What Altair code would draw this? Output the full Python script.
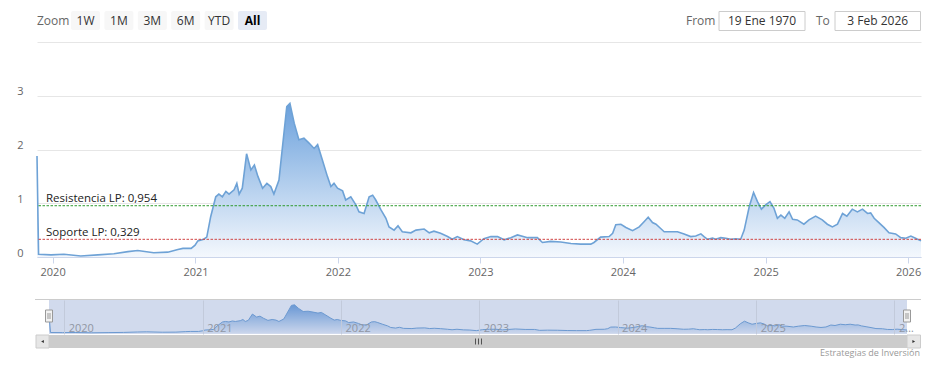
import altair as alt
import pandas as pd

# ---------------- data ----------------
dates = [
    "2019-11-22", "2019-11-26", "2019-12-28", "2020-01-30", "2020-03-13", "2020-04-26",
    "2020-06-06", "2020-07-12", "2020-08-06", "2020-09-16", "2020-10-22", "2020-11-17",
    "2020-11-30", "2020-12-21", "2020-12-31", "2021-01-07", "2021-01-22", "2021-01-30",
    "2021-02-09", "2021-02-22", "2021-03-02", "2021-03-11", "2021-03-20", "2021-03-28",
    "2021-04-10", "2021-04-17", "2021-04-23", "2021-05-01", "2021-05-12", "2021-05-23",
    "2021-06-01", "2021-06-10", "2021-06-22", "2021-07-03", "2021-07-13", "2021-07-21",
    "2021-08-03", "2021-08-07", "2021-08-23", "2021-08-31", "2021-09-11", "2021-09-23",
    "2021-10-06", "2021-10-19", "2021-11-01", "2021-11-10", "2021-11-22", "2021-12-05",
    "2021-12-14", "2021-12-22", "2021-12-31", "2022-01-13", "2022-01-21", "2022-02-03",
    "2022-02-16", "2022-02-24", "2022-03-09", "2022-03-22", "2022-03-31", "2022-04-08",
    "2022-04-21", "2022-05-04", "2022-05-12", "2022-05-25", "2022-06-04", "2022-06-15",
    "2022-07-07", "2022-07-20", "2022-08-10", "2022-08-23", "2022-09-04", "2022-09-21",
    "2022-10-09", "2022-10-21", "2022-11-03", "2022-11-20", "2022-12-07", "2022-12-24",
    "2023-01-10", "2023-01-28", "2023-02-14", "2023-03-03", "2023-03-20", "2023-04-06",
    "2023-05-02", "2023-05-27", "2023-06-09", "2023-06-30", "2023-07-26", "2023-08-21",
    "2023-09-15", "2023-10-11", "2023-10-19", "2023-11-05", "2023-11-27", "2023-12-06",
    "2023-12-14", "2023-12-27", "2024-01-09", "2024-01-26", "2024-02-12", "2024-02-25",
    "2024-03-06", "2024-03-17", "2024-03-26", "2024-04-07", "2024-04-16", "2024-05-03",
    "2024-05-20", "2024-06-06", "2024-06-23", "2024-07-06", "2024-07-19", "2024-07-27",
    "2024-08-05", "2024-08-18", "2024-08-26", "2024-09-08", "2024-09-21", "2024-10-04",
    "2024-10-16", "2024-10-29", "2024-11-07", "2024-11-20", "2024-12-01", "2024-12-11",
    "2024-12-21", "2025-01-01", "2025-01-12", "2025-01-22", "2025-01-31", "2025-02-09",
    "2025-02-19", "2025-03-02", "2025-03-11", "2025-03-23", "2025-04-09", "2025-04-22",
    "2025-05-09", "2025-05-26", "2025-06-08", "2025-06-21", "2025-07-04", "2025-07-17",
    "2025-07-28", "2025-08-11", "2025-08-24", "2025-09-06", "2025-09-19", "2025-09-27",
    "2025-10-06", "2025-10-18", "2025-10-31", "2025-11-13", "2025-11-30", "2025-12-13",
    "2025-12-26", "2026-01-08", "2026-01-20", "2026-02-03",
]
values = [
    1.88, 0.05, 0.04, 0.05, 0.02, 0.04,
    0.06, 0.10, 0.12, 0.08, 0.09, 0.14,
    0.16, 0.16, 0.22, 0.30, 0.33, 0.37,
    0.75, 1.12, 1.17, 1.12, 1.22, 1.17,
    1.25, 1.37, 1.17, 1.28, 1.92, 1.62,
    1.71, 1.50, 1.28, 1.37, 1.31, 1.17,
    1.43, 1.71, 2.80, 2.86, 2.49, 2.18,
    2.21, 2.12, 2.02, 2.09, 1.81, 1.50,
    1.31, 1.37, 1.28, 1.23, 1.06, 1.12,
    0.97, 0.84, 0.81, 1.12, 1.15, 1.06,
    0.88, 0.72, 0.56, 0.50, 0.58, 0.47,
    0.45, 0.50, 0.52, 0.45, 0.48, 0.44,
    0.38, 0.33, 0.38, 0.32, 0.30, 0.24,
    0.34, 0.38, 0.38, 0.32, 0.36, 0.41,
    0.36, 0.36, 0.27, 0.29, 0.28, 0.25,
    0.24, 0.24, 0.27, 0.37, 0.38, 0.44,
    0.60, 0.61, 0.55, 0.49, 0.56, 0.66,
    0.74, 0.64, 0.61, 0.53, 0.47, 0.47,
    0.47, 0.43, 0.38, 0.39, 0.43, 0.38,
    0.33, 0.35, 0.33, 0.36, 0.35, 0.33,
    0.34, 0.33, 0.50, 0.94, 1.20, 1.03,
    0.89, 0.97, 1.03, 0.91, 0.72, 0.78,
    0.72, 0.84, 0.70, 0.69, 0.61, 0.69,
    0.76, 0.69, 0.61, 0.56, 0.61, 0.81,
    0.76, 0.89, 0.84, 0.89, 0.81, 0.82,
    0.72, 0.64, 0.55, 0.45, 0.43, 0.36,
    0.35, 0.39, 0.35, 0.30,
]
years = [2020, 2021, 2022, 2023, 2024, 2025, 2026]
y_ticks = [0, 1, 2, 3, 4]
level_labels = ["Resistencia LP: 0,954", "Soporte LP: 0,329"]
level_values = [0.954, 0.329]
range_buttons = ["1W", "1M", "3M", "6M", "YTD", "All"]
selected_button = "All"
input_labels = ["From", "To"]
input_values = ["19 Ene 1970", "3 Feb 2026"]
credits_text = "Estrategias de Inversión"

# ---------------- styling ----------------
FONT = "Open Sans"
W, H = 884, 215
LINE_COLOR = "#6ea2d6"
LEVEL_COLORS = ["#2e9a2e", "#d04545"]

df = pd.DataFrame({"date": dates, "value": values})


def dt(s):
    y, m, d = (int(p) for p in s.split("-"))
    return alt.DateTime(year=y, month=m, date=d, utc=True)


x_domain = [dt(dates[0]), dt(dates[-1])]
year_vals = [alt.DateTime(year=y, month=1, date=1, utc=True) for y in years]

grad = alt.Gradient(
    gradient="linear",
    stops=[alt.GradientStop(color="#6aa0dc", offset=0),
           alt.GradientStop(color="#f4f8fd", offset=1)],
    x1=1, x2=1, y1=0, y2=1,
)

x_main = alt.X(
    "date:T",
    scale=alt.Scale(type="utc", domain=x_domain, nice=False),
    axis=alt.Axis(values=year_vals, format="%Y", grid=False, labelFlush=False,
                  domainColor="#ccd6eb", tickColor="#ccd6eb", tickSize=6,
                  labelPadding=12, labelBaseline="alphabetic", labelAngle=0,
                  labelColor="#666666", labelFontSize=11, title=None),
)
y_main = alt.Y(
    "value:Q",
    scale=alt.Scale(domain=[0, 4], nice=False),
    axis=alt.Axis(values=y_ticks, format="d", grid=True, gridColor="#e6e6e6",
                  domain=False, ticks=False, labelPadding=14, labelBaseline="alphabetic",
                  labelOffset=-1, labelExpr="datum.value >= 4 ? '' : datum.label",
                  labelColor="#666666", labelFontSize=11, title=None),
)

area = alt.Chart(df).mark_area(fill=grad, interpolate="linear").encode(x=x_main, y=y_main)
line = alt.Chart(df).mark_line(color=LINE_COLOR, strokeWidth=1.6).encode(
    x="date:T", y="value:Q")

layers = [area, line]

for lab, val, col in zip(level_labels, level_values, LEVEL_COLORS):
    ldf = pd.DataFrame({"value": [val], "label": [lab]})
    layers.append(alt.Chart(ldf).mark_rule(color=col, strokeDash=[2.5, 1.5], strokeWidth=1)
                  .encode(y="value:Q"))
    layers.append(alt.Chart(ldf).mark_text(align="left", baseline="alphabetic", dy=-3.5,
                                           fontSize=11.5, color="#222222")
                  .encode(x=alt.value(9), y="value:Q", text="label:N"))

# ---- range selector header (drawn above plot area) ----
HDR_TOP, HDR_BOT, HDR_BASE = -31, -12, -17
layers.append(alt.Chart(pd.DataFrame({"t": ["Zoom"]})).mark_text(
    align="left", baseline="alphabetic", fontSize=12, color="#666666")
    .encode(x=alt.value(0), y=alt.value(HDR_BASE), text="t:N"))
BTN_X0, BTN_STEP, BTN_W = 34, 33.4, 29
for i, b in enumerate(range_buttons):
    x0 = BTN_X0 + i * BTN_STEP
    sel = b == selected_button
    bdf = pd.DataFrame({"t": [b]})
    layers.append(alt.Chart(bdf).mark_rect(fill="#e6ebf5" if sel else "#f7f7f7",
                                           cornerRadius=2)
                  .encode(x=alt.value(x0), x2=alt.value(x0 + BTN_W),
                          y=alt.value(HDR_TOP), y2=alt.value(HDR_BOT)))
    layers.append(alt.Chart(bdf).mark_text(
        align="center", baseline="alphabetic", fontSize=12,
        fontWeight="bold" if sel else "normal",
        color="#000000" if sel else "#333333")
        .encode(x=alt.value(x0 + BTN_W / 2), y=alt.value(HDR_BASE), text="t:N"))

input_geo = [(649, 682, 768), (779, 798, 883.5)]
for lab, val, (lx, bx0, bx1) in zip(input_labels, input_values, input_geo):
    idf = pd.DataFrame({"t": [lab], "v": [val]})
    layers.append(alt.Chart(idf).mark_text(align="left", baseline="alphabetic",
                                           fontSize=12, color="#666666")
                  .encode(x=alt.value(lx), y=alt.value(HDR_BASE), text="t:N"))
    layers.append(alt.Chart(idf).mark_rect(fill="white", stroke="#cccccc", strokeWidth=1)
                  .encode(x=alt.value(bx0), x2=alt.value(bx1),
                          y=alt.value(HDR_TOP + 0.5), y2=alt.value(HDR_BOT + 0.5)))
    layers.append(alt.Chart(idf).mark_text(align="center", baseline="alphabetic",
                                           fontSize=12, color="#333333")
                  .encode(x=alt.value((bx0 + bx1) / 2), y=alt.value(HDR_BASE), text="v:N"))

main = alt.layer(*layers).properties(width=W, height=H)

# ---------------- navigator ----------------
NAV_H = 35
NAV_L, NAV_R = 12, 870
x_nav = alt.X(
    "date:T",
    scale=alt.Scale(type="utc", domain=x_domain, nice=False, range=[NAV_L, NAV_R]),
    axis=alt.Axis(values=year_vals, format="%Y", grid=True, gridColor="#c2cadb",
                  zindex=1, domain=False, ticks=False, tickSize=0, labelAlign="left",
                  labelOffset=4, labelPadding=-3, labelBaseline="alphabetic",
                  labelColor="#9096a3", labelFontSize=11, labelFlush=False, labelAngle=0,
                  labelExpr="datum.label == '2026' ? '2…' : datum.label", title=None),
)
y_nav = alt.Y("value:Q", scale=alt.Scale(domain=[0, 3.45], nice=False, range=[34, 0]),
              axis=None)

one = pd.DataFrame({"k": [0]})
nav_layers = [
    alt.Chart(df).mark_area(fill=grad, interpolate="linear").encode(x=x_nav, y=y_nav),
    alt.Chart(df).mark_line(color=LINE_COLOR, strokeWidth=1).encode(x="date:T", y="value:Q"),
    alt.Chart(one).mark_rect(fill="#6685c2", opacity=0.3).encode(
        x=alt.value(NAV_L), x2=alt.value(NAV_R), y=alt.value(0), y2=alt.value(NAV_H)),
    alt.Chart(one).mark_rule(color="#cccccc", strokeWidth=1).encode(
        x=alt.value(-2), x2=alt.value(W), y=alt.value(0.5)),
    # scrollbar track, bar, buttons
    alt.Chart(one).mark_rect(fill="#f2f2f2").encode(
        x=alt.value(-1), x2=alt.value(883.5), y=alt.value(36), y2=alt.value(49)),
    alt.Chart(one).mark_rect(fill="#cccccc").encode(
        x=alt.value(NAV_L), x2=alt.value(NAV_R), y=alt.value(36), y2=alt.value(49)),
]
for bx0, bx1, shape in [(-1, NAV_L, "triangle-left"), (NAV_R, 883.5, "triangle-right")]:
    nav_layers.append(alt.Chart(one).mark_rect(fill="#e6e6e6", stroke="#cccccc",
                                               strokeWidth=1)
                      .encode(x=alt.value(bx0), x2=alt.value(bx1),
                              y=alt.value(36), y2=alt.value(49)))
    nav_layers.append(alt.Chart(one).mark_point(shape=shape, filled=True, size=10,
                                                color="#333333", opacity=1)
                      .encode(x=alt.value((bx0 + bx1) / 2), y=alt.value(42.5)))
# scrollbar grip
grip_c = round((NAV_L + NAV_R) / 2) + 0.5
for k in (-3, 0, 3):
    nav_layers.append(alt.Chart(one).mark_rule(color="#333333", strokeWidth=0.8).encode(
        x=alt.value(grip_c + k), y=alt.value(39.5), y2=alt.value(45.5)))
# handles
for hx in (NAV_L, NAV_R):
    nav_layers.append(alt.Chart(one).mark_rect(fill="#f2f2f2", stroke="#999999",
                                               strokeWidth=1)
                      .encode(x=alt.value(hx - 3.5), x2=alt.value(hx + 3.5),
                              y=alt.value(11), y2=alt.value(23)))
    for k in (-1, 1):
        nav_layers.append(alt.Chart(one).mark_rule(color="#999999", strokeWidth=1).encode(
            x=alt.value(hx + k), y=alt.value(14), y2=alt.value(20)))
# credits
nav_layers.append(alt.Chart(pd.DataFrame({"t": [credits_text]})).mark_text(
    align="right", baseline="alphabetic", fontSize=9, color="#999999")
    .encode(x=alt.value(883), y=alt.value(57), text="t:N"))

nav = alt.layer(*nav_layers).properties(width=W, height=NAV_H)

chart = (
    alt.vconcat(main, nav, spacing=22)
    .properties(padding={"left": 8, "top": 3, "right": 0, "bottom": 0},
                background="white")
    .configure(font=FONT)
    .configure_view(stroke=None)
)

chart.save("out.html", embed_options={"renderer": "svg", "actions": False})
